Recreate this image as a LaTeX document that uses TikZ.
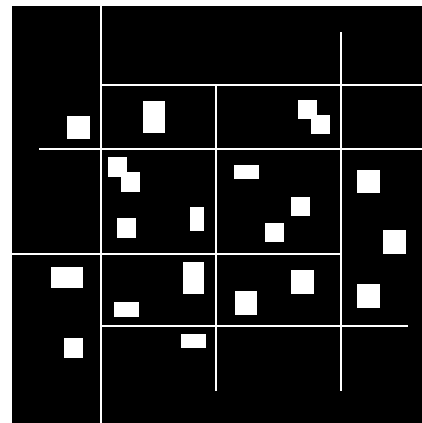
\documentclass[tikz,border=0pt]{standalone}
\begin{document}
\begin{tikzpicture}[x=0.25mm, y=-0.25mm,
    wall/.style={draw=white, line width=2pt},
    blob/.style={fill=white}]
  \useasboundingbox (0,0) rectangle (422,423);
  \fill[black] (12,6) rectangle (422,423);
  % dividing lines
  \draw[wall] (101,6) -- (101,423);
  \draw[wall] (101,85) -- (422,85);
  \draw[wall] (39,149) -- (422,149);
  \draw[wall] (216,85) -- (216,391);
  \draw[wall] (341,32) -- (341,391);
  \draw[wall] (12,254) -- (341,254);
  \draw[wall] (101,326) -- (408,326);
  % white blocks
  \foreach \xa/\ya/\xb/\yb in {67/116/90/139, 143/101/165/133, 108/157/127/177,
      121/172/140/192, 190/207/204/231, 298/100/317/119, 311/115/330/134,
      234/165/259/179, 357/170/380/193, 291/197/310/216, 117/218/136/238,
      51/267/83/288, 183/262/204/294, 114/302/139/317, 64/338/83/358,
      181/334/206/348, 265/223/284/242, 383/230/406/254, 291/270/314/294,
      235/291/257/315, 357/284/380/308}
    \fill[blob] (\xa,\ya) rectangle (\xb,\yb);
\end{tikzpicture}
\end{document}
